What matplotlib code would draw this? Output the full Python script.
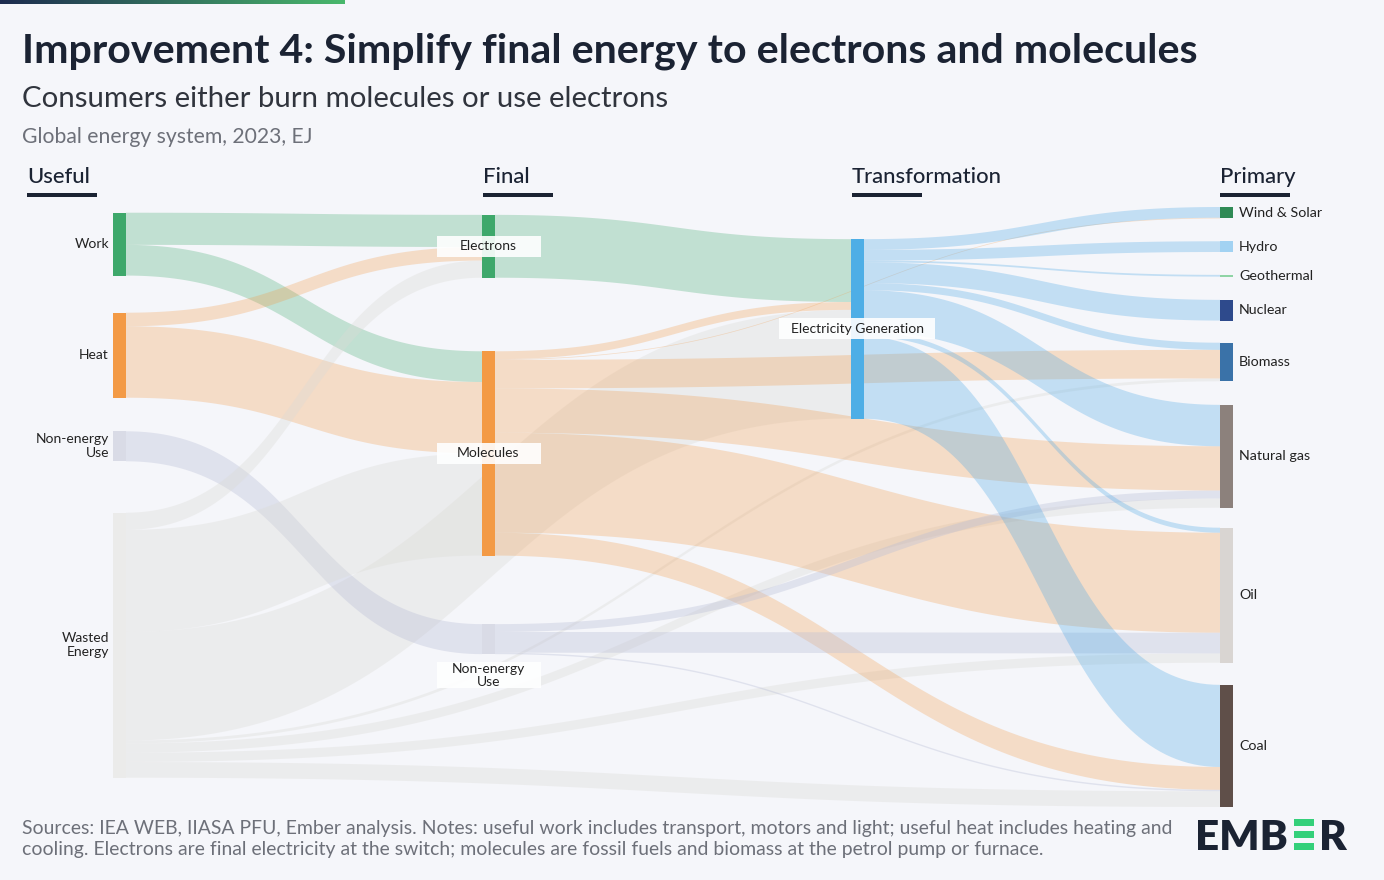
import numpy as np
import matplotlib
matplotlib.use("Agg")
import matplotlib.pyplot as plt
from matplotlib.patches import Rectangle
from matplotlib.colors import LinearSegmentedColormap

plt.rcParams['font.family'] = ['Lato', 'DejaVu Sans']

# ---- data (EJ, global energy system 2023) ----
column_titles = ["Useful", "Final", "Transformation", "Primary"]

useful_ids = ["work", "heat", "nonenergy_u", "wasted"]
final_ids = ["electrons", "molecules", "nonenergy_f"]
transformation_ids = ["elec"]
primary_ids = ["windsolar", "hydro", "geo", "nuclear", "biomass", "gas", "oil", "coal"]

labels = {
    "work": "Work", "heat": "Heat", "nonenergy_u": "Non-energy\nUse", "wasted": "Wasted\nEnergy",
    "electrons": "Electrons", "molecules": "Molecules", "nonenergy_f": "Non-energy\nUse",
    "elec": "Electricity Generation",
    "windsolar": "Wind & Solar", "hydro": "Hydro", "geo": "Geothermal", "nuclear": "Nuclear",
    "biomass": "Biomass", "gas": "Natural gas", "oil": "Oil", "coal": "Coal",
}

# (left node, right node, EJ)
links_useful = [
    ("work", "electrons", 45), ("work", "molecules", 43),
    ("heat", "electrons", 19), ("heat", "molecules", 100),
    ("nonenergy_u", "nonenergy_f", 42),
    ("wasted", "electrons", 24), ("wasted", "molecules", 143),
]
links_wasted = [
    ("wasted", "elec", 152), ("wasted", "biomass", 4), ("wasted", "gas", 13),
    ("wasted", "oil", 13), ("wasted", "coal", 22),
]
links_final = [
    ("electrons", "elec", 88), ("molecules", "elec", 11),
    ("molecules", "windsolar", 1), ("molecules", "biomass", 40), ("molecules", "gas", 62),
    ("molecules", "oil", 140), ("molecules", "coal", 32),
    ("nonenergy_f", "gas", 11), ("nonenergy_f", "oil", 29), ("nonenergy_f", "coal", 2),
]
links_power = [
    ("elec", "windsolar", 15), ("elec", "hydro", 15), ("elec", "geo", 2.5), ("elec", "nuclear", 29),
    ("elec", "biomass", 10), ("elec", "gas", 58), ("elec", "oil", 7), ("elec", "coal", 115),
]

# ---- layout / style ----
node_top = {  # EJ from top of the plot area
    "work": 8, "heat": 148, "nonenergy_u": 314, "wasted": 428,
    "electrons": 11, "molecules": 202, "nonenergy_f": 584,
    "elec": 45,
    "windsolar": 0, "hydro": 48, "geo": 95, "nuclear": 130, "biomass": 190,
    "gas": 277, "oil": 449, "coal": 669,
}
BG = "#f5f6fa"
NAVY = "#1b2333"
node_color = {
    "work": "#3ea86b", "heat": "#f39a45", "nonenergy_u": "#d9dbe6", "wasted": "#ebebea",
    "electrons": "#3ea86b", "molecules": "#f39a45", "nonenergy_f": "#d9dbe6",
    "elec": "#4eaee6",
    "windsolar": "#2f8a55", "hydro": "#a2d2f2", "geo": "#8fd4a5", "nuclear": "#2e4a8c",
    "biomass": "#3a72a8", "gas": "#8c817c", "oil": "#d9d5d2", "coal": "#5f4f49",
}
green = (0.24, 0.66, 0.42, 0.28)
orange = (0.95, 0.60, 0.27, 0.28)
blue = (0.30, 0.66, 0.90, 0.30)
lav = (0.72, 0.74, 0.84, 0.35)
grey = (0.86, 0.86, 0.84, 0.35)
band_color = {"work": green, "heat": orange, "nonenergy_u": lav, "wasted": grey,
              "electrons": green, "molecules": orange, "nonenergy_f": lav, "elec": blue}

W, H = 1384, 880
fig = plt.figure(figsize=(W / 100, H / 100), dpi=100)
fig.patch.set_facecolor(BG)

columns = [useful_ids, final_ids, transformation_ids, primary_ids]
col_of = {n: c for c, ids in enumerate(columns) for n in ids}
links = links_wasted + links_useful + links_final + links_power
nw = 13 / 369

# node values
val = {}
for n in col_of:
    left_sum = sum(v for a, b, v in links if b == n)
    right_sum = sum(v for a, b, v in links if a == n)
    val[n] = max(left_sum, right_sum)

# stack link ends inside each node
end_right = {}  # link index -> y range on left node's right side
end_left = {}   # link index -> y range on right node's left side
for n in col_of:
    outs = [i for i, (a, b, v) in enumerate(links) if a == n]
    outs.sort(key=lambda i: (col_of[links[i][1]] - col_of[n], node_top[links[i][1]]))
    y = node_top[n]
    for i in outs:
        end_right[i] = (y, y + links[i][2])
        y += links[i][2]
    ins = [i for i, (a, b, v) in enumerate(links) if b == n]
    ins.sort(key=lambda i: (col_of[n] - col_of[links[i][0]], node_top[links[i][0]]))
    y = node_top[n]
    for i in ins:
        end_left[i] = (y, y + links[i][2])
        y += links[i][2]

ax = fig.add_axes([113 / W, 1 - 807 / H, 1120 / W, 600 / H])
ax.set_xlim(0, 3 + nw)
ax.set_ylim(840, 0)
ax.axis("off")

t = np.linspace(0, 1, 80)
for i, (a, b, v) in enumerate(links):
    x0 = col_of[a] + nw
    x1 = col_of[b]
    xm = (x0 + x1) / 2
    xs = (1 - t) ** 3 * x0 + 3 * (1 - t) ** 2 * t * xm + 3 * (1 - t) * t ** 2 * xm + t ** 3 * x1
    s = 3 * t ** 2 - 2 * t ** 3
    a0, a1 = end_right[i]
    b0, b1 = end_left[i]
    top = a0 + (b0 - a0) * s
    bot = a1 + (b1 - a1) * s
    ax.fill(np.r_[xs, xs[::-1]], np.r_[top, bot[::-1]], color=band_color[a], lw=0)

for c, ids in enumerate(columns):
    ax.bar([c] * len(ids), [val[n] for n in ids], bottom=[node_top[n] for n in ids],
           width=nw, align="edge", color=[node_color[n] for n in ids], lw=0, zorder=3)

# px -> data
fig.canvas.draw()
renderer = fig.canvas.get_renderer()
bb = ax.get_window_extent(renderer)
sx = (3 + nw) / bb.width
sy = 840 / bb.height

def center(n):
    return node_top[n] + val[n] / 2

for n in useful_ids:
    ax.annotate(labels[n], (0, center(n)), xytext=(-4, 0), textcoords="offset pixels",
                ha="right", va="center", fontsize=10, color="#222222", multialignment="right")

box_w = {"electrons": 104, "molecules": 104, "nonenergy_f": 104, "elec": 156}
box_dy = {"electrons": 0, "molecules": 0, "nonenergy_f": 36, "elec": 0}
for n in final_ids + transformation_ids:
    cx = col_of[n] + nw / 2
    cy = center(n) + box_dy[n] * sy
    bh = 26 if "\n" in labels[n] else 21
    ax.add_patch(Rectangle((cx - box_w[n] * sx / 2, cy - bh * sy / 2), box_w[n] * sx, bh * sy,
                           facecolor="white", alpha=0.9, lw=0, zorder=4))
    ax.text(cx, cy, labels[n], ha="center", va="center", fontsize=10, color="#222222",
            zorder=5, linespacing=1.1)

for n in primary_ids:
    ax.annotate(labels[n], (3 + nw, center(n)), xytext=(6, 0), textcoords="offset pixels",
                ha="left", va="center", fontsize=10.3, color="#222222")

# ---- titles & decoration ----
def fx(px):
    return px / W

def fy(px):
    return 1 - px / H

def fit(txt, width):
    for _ in range(3):
        w = txt.get_window_extent(renderer).width
        txt.set_fontsize(txt.get_fontsize() * width / w)

title = fig.text(fx(22), fy(62), "Improvement 4: Simplify final energy to electrons and molecules",
                 fontsize=28, fontweight="bold", color=NAVY, va="baseline")
fit(title, 1170)
sub = fig.text(fx(22), fy(107), "Consumers either burn molecules or use electrons",
               fontsize=18, fontweight="normal", color="#30343d", va="baseline")
fit(sub, 648)
sub2 = fig.text(fx(22), fy(143), "Global energy system, 2023, EJ",
                fontsize=13, fontweight="normal", color="#6d7079", va="baseline")
fit(sub2, 290)

head_x = [27, 483, 852, 1220]
heads = []
for x, name in zip(head_x, column_titles):
    heads.append(fig.text(fx(x), fy(183), name, fontsize=15, color=NAVY, va="baseline",
                          fontweight="medium"))
    fig.patches.append(Rectangle((fx(x), fy(197)), 70 / W, 4 / H, transform=fig.transFigure,
                                 facecolor=NAVY, lw=0))
fit(heads[2], 150)
for h in heads:
    h.set_fontsize(heads[2].get_fontsize())

foot1 = fig.text(fx(22), fy(834), "Sources: IEA WEB, IIASA PFU, Ember analysis. Notes: useful work includes "
                 "transport, motors and light; useful heat includes heating and",
                 fontsize=12, fontweight="normal", color="#6d7079", va="baseline")
fit(foot1, 1154)
fig.text(fx(22), fy(855), "cooling. Electrons are final electricity at the switch; molecules are fossil "
         "fuels and biomass at the petrol pump or furnace.",
         fontsize=foot1.get_fontsize(), fontweight="normal", color="#6d7079", va="baseline")

# gradient strip at the top
gax = fig.add_axes([0, 1 - 4 / H, 345 / W, 4 / H])
gax.imshow(np.linspace(0, 1, 256)[None, :], aspect="auto",
           cmap=LinearSegmentedColormap.from_list("strip", ["#1d2b4f", "#49b86c"]))
gax.axis("off")

# EMBER logo
emb = fig.text(fx(1195), fy(850), "EMB", fontsize=30, fontweight="heavy", color=NAVY, va="baseline")
fit(emb, 93)
fig.text(fx(1319), fy(850), "R", fontsize=emb.get_fontsize(), fontweight="heavy", color=NAVY,
         va="baseline")
for y in [819, 831, 843]:
    fig.patches.append(Rectangle((fx(1294), fy(y + 7)), 20 / W, 7 / H, transform=fig.transFigure,
                                 facecolor="#34d07a", lw=0))

fig.savefig("out.png", dpi=100, facecolor=BG)
